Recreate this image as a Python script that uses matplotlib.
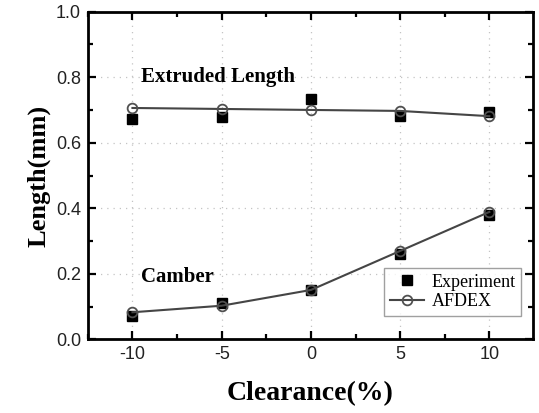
import numpy as np
import matplotlib.pyplot as plt
from matplotlib.ticker import MultipleLocator

# clearance values and measured / simulated lengths
clearance = [-10, -5, 0, 5, 10]
extruded_exp = [0.671, 0.679, 0.732, 0.681, 0.693]
extruded_afdex = [0.706, 0.703, 0.700, 0.697, 0.681]
camber_exp = [0.073, 0.112, 0.151, 0.260, 0.380]
camber_afdex = [0.083, 0.103, 0.151, 0.270, 0.389]

serif = 'Liberation Serif'
sans = 'Liberation Sans'
plt.rcParams['axes.unicode_minus'] = False

fig = plt.figure(figsize=(5.39, 4.13), dpi=100)
ax = fig.add_axes([0.163, 0.178, 0.826, 0.794])

line_kw = dict(color='#454545', lw=1.5, marker='o', markersize=7,
               markerfacecolor='none', markeredgecolor='#505050', markeredgewidth=1.3)
exp_kw = dict(ls='none', marker='s', markersize=6.5, color='black')

ax.plot(clearance, extruded_exp, **exp_kw, label='Experiment')
ax.plot(clearance, extruded_afdex, **line_kw, label='AFDEX')
ax.plot(clearance, camber_exp, **exp_kw)
ax.plot(clearance, camber_afdex, **line_kw)

ax.set_xlim(-12.5, 12.45)
ax.set_ylim(0, 1.0)
ax.xaxis.set_major_locator(MultipleLocator(5))
ax.xaxis.set_minor_locator(MultipleLocator(2.5))
ax.yaxis.set_major_locator(MultipleLocator(0.2))
ax.yaxis.set_minor_locator(MultipleLocator(0.1))
ax.grid(True, which='major', ls=(0, (1, 4)), color='#c4c4c4', lw=0.9)

ax.tick_params(which='both', direction='in', top=True, right=True, width=1.6)
ax.tick_params(which='major', length=6, labelsize=13, pad=5, labelcolor='#222222')
ax.tick_params(which='minor', length=3.5)
for lab in ax.get_xticklabels() + ax.get_yticklabels():
    lab.set_family(sans)
for sp in ax.spines.values():
    sp.set_linewidth(2)

ax.set_xlabel('Clearance(%)', family=serif, weight='bold', fontsize=20, labelpad=13)
ax.set_ylabel('Length(mm)', family=serif, weight='bold', fontsize=19, labelpad=4)

ax.text(-9.5, 0.80, 'Extruded Length', family=serif, weight='bold', fontsize=15, va='center')
ax.text(-9.5, 0.19, 'Camber', family=serif, weight='bold', fontsize=15, va='center')

leg = ax.legend(loc='lower right', bbox_to_anchor=(0.993, 0.045), fancybox=False,
                prop={'family': serif, 'size': 13}, handlelength=1.9,
                borderpad=0.3, labelspacing=0.15, handletextpad=0.4)
leg.get_frame().set_edgecolor('#888888')
leg.get_frame().set_linewidth(1.0)

fig.savefig('out.png', dpi=100)
